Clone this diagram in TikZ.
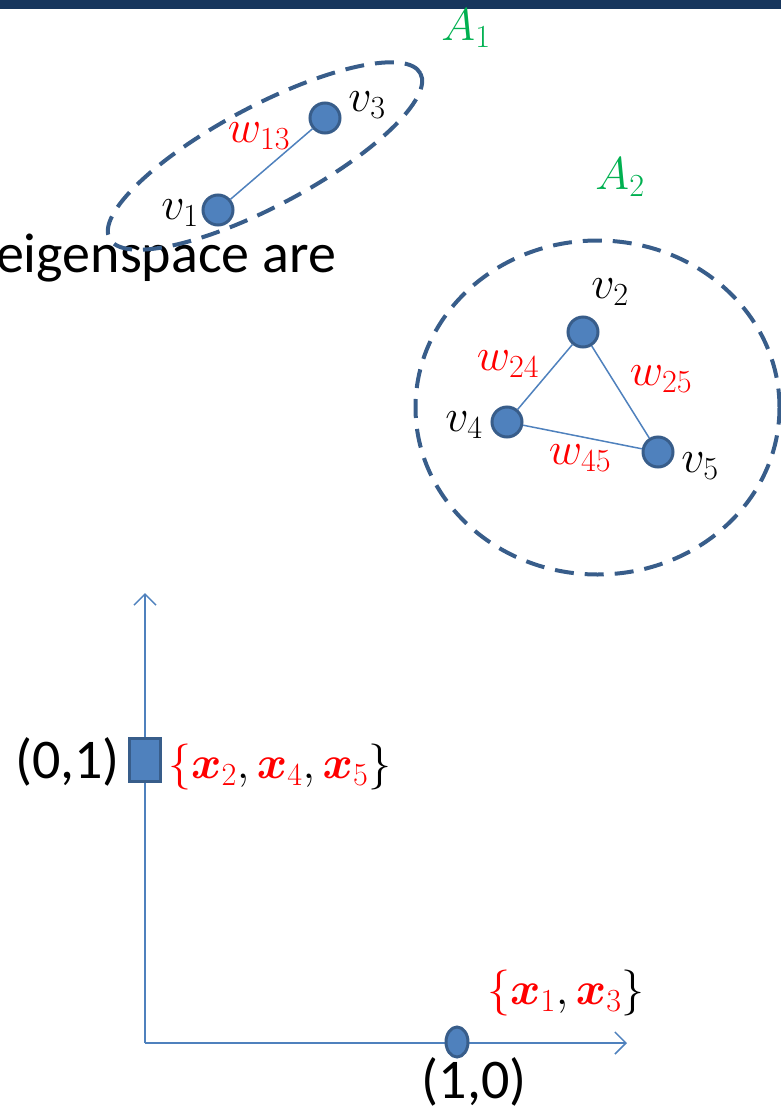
\RequirePackage{fix-cm}
\documentclass[tikz,border=0pt]{standalone}
\usepackage{amsmath,bm}
\usepackage{fontspec}
\setmainfont{Carlito}
\usetikzlibrary{shapes.geometric,arrows.meta}
\definecolor{navy}{RGB}{23,54,93}
\definecolor{nodefill}{RGB}{79,129,189}
\definecolor{nodeborder}{RGB}{56,93,138}
\definecolor{grn}{RGB}{0,176,80}
\definecolor{rd}{RGB}{255,0,0}
\newcommand{\msz}{\fontsize{46}{54}\selectfont}
\newcommand{\tsz}{\fontsize{56}{64}\selectfont}
\tikzset{
  vert/.style={circle,fill=nodefill,draw=nodeborder,line width=3pt,minimum size=30pt,inner sep=0pt},
  edgeline/.style={draw=nodefill,line width=1.5pt},
  group/.style={draw=nodeborder,line width=4pt,dash pattern=on 19pt off 11pt},
  vlab/.style={font=\msz,text=black,inner sep=0pt},
  wlab/.style={font=\msz,text=rd,inner sep=0pt},
  alab/.style={font=\msz,text=grn,inner sep=0pt},
  axis/.style={draw=nodefill,line width=1.5pt,-{Straight Barb[length=11pt,width=22pt,line width=1.5pt]}},
  txt/.style={font=\tsz,inner sep=0pt}
}
\begin{document}
\begin{tikzpicture}[x=1pt,y=-1pt]
\useasboundingbox (0,0) rectangle (781,1119);
\fill[navy] (0,0) rectangle (781,9);
% background text
\node[txt,anchor=base east] (eig) at (336,272) {eigenspace are};
% group A1
\node[group,ellipse,minimum width=352pt,minimum height=100pt,rotate=28,inner sep=0pt] (g1) at (265,156) {};
\node[alab] (a1) at (466,28) {$A_1$};
\node[vert] (v1) at (218,210) {};
\node[vert] (v3) at (325,118) {};
\draw[edgeline] (v1) -- (v3);
\node[vlab] (lv1) at (180,213) {$v_1$};
\node[vlab] (lv3) at (367,105) {$v_3$};
\node[wlab] (w13) at (259,136) {$w_{13}$};
% group A2
\node[group,ellipse,minimum width=364pt,minimum height=334pt,inner sep=0pt] (g2) at (597.5,407.5) {};
\node[alab] (a2) at (620,177) {$A_2$};
\node[vert] (v2) at (583,332) {};
\node[vert] (v4) at (507,422) {};
\node[vert] (v5) at (658,452) {};
\draw[edgeline] (v2) -- (v4);
\draw[edgeline] (v2) -- (v5);
\draw[edgeline] (v4) -- (v5);
\node[vlab] (lv2) at (610,292) {$v_2$};
\node[vlab] (lv4) at (464,425) {$v_4$};
\node[vlab] (lv5) at (700,466) {$v_5$};
\node[wlab] (w24) at (508,364) {$w_{24}$};
\node[wlab] (w25) at (661,379) {$w_{25}$};
\node[wlab] (w45) at (580,458) {$w_{45}$};
% axes
\coordinate (o) at (145,1043);
\coordinate (ytip) at (145,593);
\coordinate (xtip) at (627,1043);
\draw[axis] (o) -- (ytip);
\draw[axis] (o) -- (xtip);
\node[rectangle,fill=nodefill,draw=nodeborder,line width=3pt,minimum width=31pt,minimum height=43pt,inner sep=0pt] (p01) at (145,760) {};
\node[ellipse,fill=nodefill,draw=nodeborder,line width=3pt,minimum width=22pt,minimum height=30pt,inner sep=0pt] (p10) at (457,1042) {};
\node[txt,anchor=east] (l01) at (120,762) {(0,1)};
\node[txt] (l10) at (474,1082) {(1,0)};
\node[font=\msz,anchor=west,inner sep=0pt] (s1) at (168,767) {$\color{rd}\{\bm{x}_2\color{black},\color{rd}\bm{x}_4\color{black},\color{rd}\bm{x}_5\color{black}\}$};
\node[font=\msz,anchor=west,inner sep=0pt] (s2) at (487,993) {$\color{rd}\{\bm{x}_1\color{black},\color{rd}\bm{x}_3\color{black}\}$};
\end{tikzpicture}
\end{document}
